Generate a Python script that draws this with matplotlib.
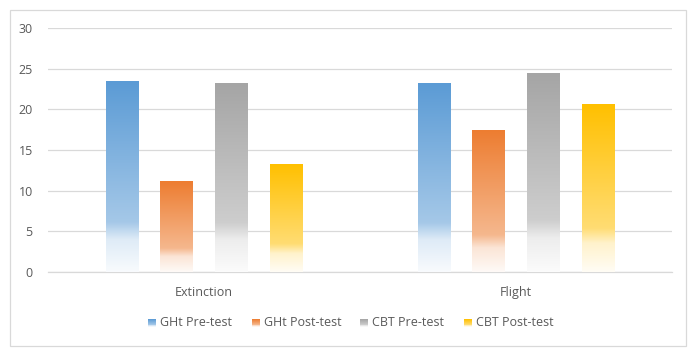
import matplotlib.pyplot as plt
import numpy as np
from matplotlib.colors import to_rgb
from matplotlib.patches import Rectangle

categories = ["Extinction", "Flight"]
series = ["GHt Pre-test", "GHt Post-test", "CBT Pre-test", "CBT Post-test"]
values = [
    [23.4, 23.2],   # GHt Pre-test
    [11.1, 17.4],   # GHt Post-test
    [23.2, 24.4],   # CBT Pre-test
    [13.2, 20.6],   # CBT Post-test
]
colors = ["#5B9BD5", "#ED7D31", "#A5A5A5", "#FFC000"]
yticks = [0, 5, 10, 15, 20, 25, 30]

W, H = 698, 359
fig = plt.figure(figsize=(W / 100, H / 100), dpi=100)
ax = fig.add_axes([48 / W, 1 - 272 / H, 624 / W, 244 / H])


def tint(c, f):
    c = np.array(to_rgb(c))
    return c + (1 - c) * f


def ramp(c, n=200):
    # Excel-like light gradient: top full colour, fades to white at bottom
    stops = [(0.0, 0.0), (0.74, 0.45), (0.83, 0.8), (1.0, 0.96)]
    t = np.linspace(0, 1, n)
    f = np.interp(t, [s[0] for s in stops], [s[1] for s in stops])
    return np.array([tint(c, v) for v in f])[:, None, :]


bar_w = 0.103
step = 0.176
x = np.arange(len(categories))
for i, (name, vals, col) in enumerate(zip(series, values, colors)):
    img = ramp(col)
    for j, v in enumerate(vals):
        xc = x[j] + (i - 1.5) * step
        ax.imshow(img, extent=(xc - bar_w / 2, xc + bar_w / 2, 0, v),
                  aspect="auto", zorder=3, interpolation="bilinear")

ax.set_xlim(-0.5, 1.5)
ax.set_ylim(0, 30)
ax.set_yticks(yticks)
ax.set_xticks(x)
ax.set_xticklabels(categories)
ax.grid(axis="y", color="#D9D9D9", linewidth=0.9, zorder=0)
for s in ["top", "right", "left"]:
    ax.spines[s].set_visible(False)
ax.spines["bottom"].set_color("#D9D9D9")
ax.spines["bottom"].set_linewidth(0.9)
ax.tick_params(length=0, labelsize=9, labelcolor="#595959", pad=10)
ax.tick_params(axis="y", pad=11)
for lab in ax.get_xticklabels() + ax.get_yticklabels():
    lab.set_family("Open Sans")

# legend
leg_x = [148, 252, 360, 464]
for lx, name, col in zip(leg_x, series, colors):
    img = ramp(col, 20)
    lax = fig.add_axes([lx / W, 1 - 327 / H, 8 / W, 8 / H])
    lax.imshow(img, aspect="auto", extent=(0, 1, 0, 1))
    lax.axis("off")
    fig.text((lx + 12) / W, 1 - 322 / H, name, fontsize=9, color="#595959",
             va="center", ha="left", family="Open Sans")

fig.patches.append(Rectangle((9.5 / W, 1 - 346 / H), 676.5 / W, 336 / H,
                             transform=fig.transFigure, fill=False,
                             edgecolor="#D9D9D9", linewidth=0.9))

fig.savefig("out.png", dpi=100)
